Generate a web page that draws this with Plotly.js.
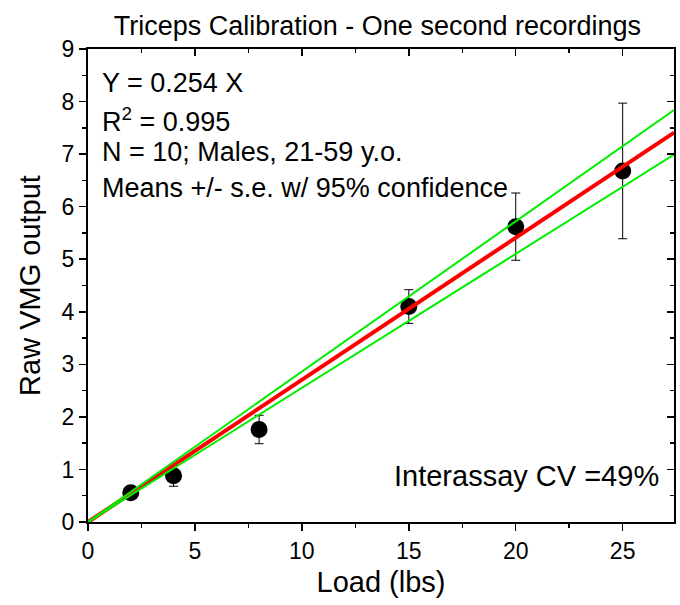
<!DOCTYPE html>
<html>
<head>
<meta charset="utf-8">
<script src="https://cdn.plot.ly/plotly-3.0.1.min.js"></script>
<style>html,body{margin:0;padding:0;background:#fff;}#chart{width:680px;height:605px;}</style>
</head>
<body>
<div id="chart"></div>
<script>
// Data
var loads = [2, 4, 8, 15, 20, 25];
var means = [0.555, 0.88, 1.76, 4.10, 5.62, 6.68];
var stdErr = [0.05, 0.20, 0.27, 0.32, 0.64, 1.29];
var fitX = [0, 27.4];
var fitY = [0, 7.41];
var upperY = [0, 7.84];
var lowerY = [0, 6.99];
var xTicks = [0, 5, 10, 15, 20, 25];
var yTicks = [0, 1, 2, 3, 4, 5, 6, 7, 8, 9];

var FONT = 'Liberation Sans, Arial, sans-serif';

var traces = [
  {x: loads, y: means, type: 'scatter', mode: 'markers',
   marker: {color: 'black', size: 17},
   error_y: {type: 'data', array: stdErr, visible: true, color: 'black', thickness: 1, width: 4.5},
   hoverinfo: 'x+y'},
  {x: fitX, y: fitY, type: 'scatter', mode: 'lines', line: {color: '#ff0000', width: 4}},
  {x: fitX, y: upperY, type: 'scatter', mode: 'lines', line: {color: '#00ee00', width: 2}},
  {x: fitX, y: lowerY, type: 'scatter', mode: 'lines', line: {color: '#00ee00', width: 2}},
  {x: [null], y: [null], xaxis: 'x2', yaxis: 'y2', type: 'scatter', mode: 'markers', hoverinfo: 'skip'}
];

var axCommon = {
  showgrid: false, zeroline: false, showline: true, linecolor: 'black', linewidth: 2,
  tickcolor: 'black', tickwidth: 1.5, ticklen: 7,
  tickfont: {family: FONT, size: 23, color: 'black'}
};

var layout = {
  width: 680, height: 605,
  margin: {l: 87.5, r: 6, t: 49, b: 82.5},
  paper_bgcolor: 'white', plot_bgcolor: 'white',
  showlegend: false,
  font: {family: FONT, color: 'black'},
  title: {text: 'Triceps Calibration - One second recordings',
          font: {family: FONT, size: 27, color: 'black'},
          x: 0.555, xanchor: 'center', y: 0.958, yanchor: 'middle'},
  xaxis: Object.assign({}, axCommon, {
    range: [0, 27.4], tickmode: 'array', tickvals: xTicks, ticktext: xTicks.map(String),
    ticks: 'outside',
    minor: {dtick: 2.5, ticklen: 4, ticks: 'outside', tickcolor: 'black', tickwidth: 1.5},
    title: {text: 'Load (lbs)', font: {family: FONT, size: 29, color: 'black'}, standoff: 9}
  }),
  yaxis: Object.assign({}, axCommon, {
    range: [0, 9], tickmode: 'array', tickvals: yTicks, ticktext: yTicks.map(String),
    ticks: 'outside',
    minor: {dtick: 0.5, ticklen: 4, ticks: 'outside', tickcolor: 'black', tickwidth: 1.5},
    title: {text: 'Raw VMG output', font: {family: FONT, size: 29, color: 'black'}, standoff: 12}
  }),
  xaxis2: Object.assign({}, axCommon, {
    overlaying: 'x', side: 'top', anchor: 'y2', range: [0, 27.4],
    tickmode: 'array', tickvals: xTicks, showticklabels: false, ticks: 'inside',
    minor: {dtick: 2.5, ticklen: 4, ticks: 'inside', tickcolor: 'black', tickwidth: 1.5}
  }),
  yaxis2: Object.assign({}, axCommon, {
    overlaying: 'y', side: 'right', anchor: 'x2', range: [0, 9],
    tickmode: 'array', tickvals: yTicks, showticklabels: false, ticks: 'inside',
    minor: {dtick: 0.5, ticklen: 4, ticks: 'inside', tickcolor: 'black', tickwidth: 1.5}
  }),
  annotations: [
    {text: 'Y = 0.254 X', xref: 'paper', yref: 'paper', x: 0.021, y: 0.929, xanchor: 'left', yanchor: 'middle', showarrow: false, font: {family: FONT, size: 27, color: 'black'}},
    {text: 'R<sup>2</sup> = 0.995', xref: 'paper', yref: 'paper', x: 0.021, y: 0.850, xanchor: 'left', yanchor: 'middle', showarrow: false, font: {family: FONT, size: 27, color: 'black'}},
    {text: 'N = 10; Males, 21-59 y.o.', xref: 'paper', yref: 'paper', x: 0.021, y: 0.7825, xanchor: 'left', yanchor: 'middle', showarrow: false, font: {family: FONT, size: 27, color: 'black'}},
    {text: 'Means +/- s.e. w/ 95% confidence', xref: 'paper', yref: 'paper', x: 0.021, y: 0.7065, xanchor: 'left', yanchor: 'middle', showarrow: false, font: {family: FONT, size: 27, color: 'black'}},
    {text: 'Interassay CV =49%', xref: 'paper', yref: 'paper', x: 0.978, y: 0.097, xanchor: 'right', yanchor: 'middle', showarrow: false, font: {family: FONT, size: 29, color: 'black'}}
  ]
};

Plotly.newPlot('chart', traces, layout, {staticPlot: true, displayModeBar: false});
</script>
</body>
</html>
